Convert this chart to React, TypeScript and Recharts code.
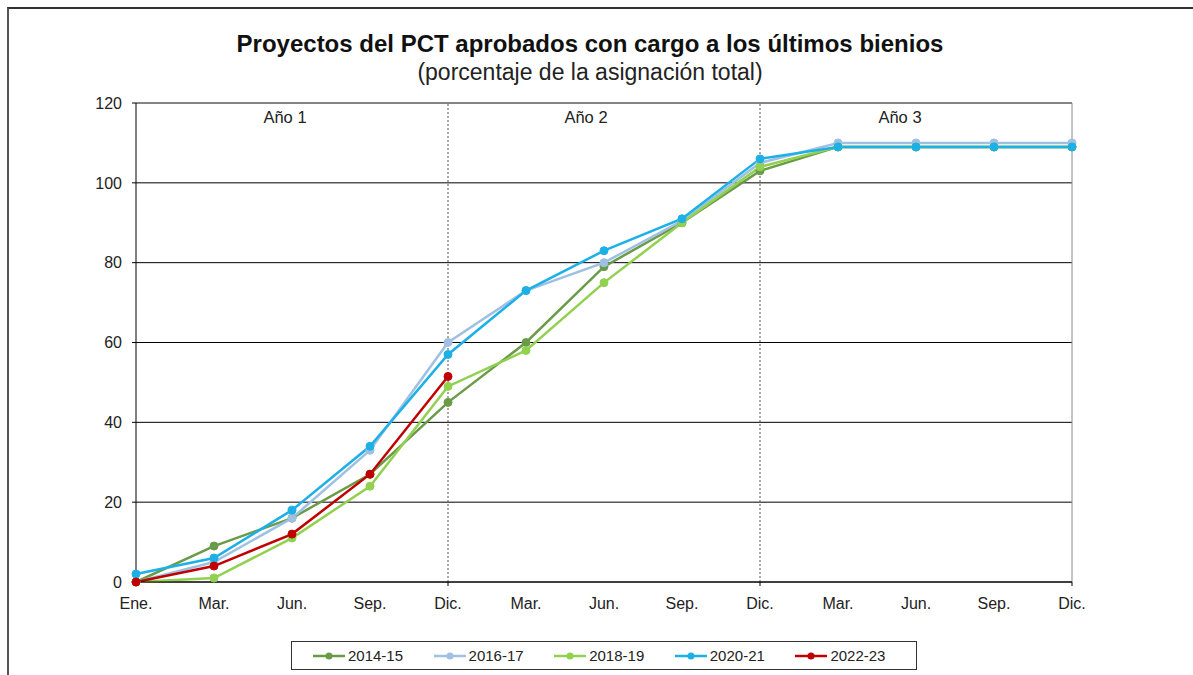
import React from "react";
import {
  LineChart,
  Line,
  XAxis,
  YAxis,
  CartesianGrid,
  ReferenceLine,
  ReferenceArea,
  Legend,
} from "recharts";

const monthLabels = ["Ene.", "Mar.", "Jun.", "Sep.", "Dic.", "Mar.", "Jun.", "Sep.", "Dic.", "Mar.", "Jun.", "Sep.", "Dic."];
const yearLabels = ["Año 1", "Año 2", "Año 3"];
const yTicks = [0, 20, 40, 60, 80, 100, 120];

const s2014_15 = [0, 9, 16, 27, 45, 60, 79, 90, 103, 109, 109, 109, 109];
const s2016_17 = [0, 5, 16, 33, 60, 73, 80, 90.5, 105, 110, 110, 110, 110];
const s2018_19 = [0, 1, 11, 24, 49, 58, 75, 90, 104, 109, 109, 109, 109];
const s2020_21 = [2, 6, 18, 34, 57, 73, 83, 91, 106, 109, 109, 109, 109];
const s2022_23 = [0, 4, 12, 27, 51.5, null, null, null, null, null, null, null, null];

const series = [
  { key: "2014-15", values: s2014_15, color: "#6a9b47" },
  { key: "2016-17", values: s2016_17, color: "#9fc0e2" },
  { key: "2018-19", values: s2018_19, color: "#92d050" },
  { key: "2020-21", values: s2020_21, color: "#1cb0e6" },
  { key: "2022-23", values: s2022_23, color: "#c00000" },
];

const data = monthLabels.map((m, i) => {
  const row: Record<string, number | null> = { idx: i };
  series.forEach((s) => {
    row[s.key] = s.values[i];
  });
  return row;
});

const FONT = "'Liberation Sans', Arial, sans-serif";

const XTick = (props: any) => {
  const { x, y, payload } = props;
  const i = payload.value as number;
  const axisY = y - 14;
  return (
    <g>
      {i > 0 && i % 4 === 0 ? (
        <line x1={x} x2={x} y1={axisY} y2={axisY + 4} stroke="#000" strokeWidth={1} />
      ) : null}
      <text x={x} y={y + 13} textAnchor="middle" fontSize={16} fill="#222" fontFamily={FONT}>
        {monthLabels[i]}
      </text>
    </g>
  );
};

const yearLabelContent = (text: string, dx: number) => (p: any) => {
  const vb = p.viewBox;
  return (
    <text
      x={vb.x + vb.width / 2 + dx}
      y={vb.y + 20}
      textAnchor="middle"
      fontSize={16.5}
      fill="#222"
      fontFamily={FONT}
    >
      {text}
    </text>
  );
};

const LegendContent = () => (
  <div
    style={{
      boxSizing: "border-box",
      width: 626,
      height: 29,
      border: "1px solid #333",
      display: "flex",
      alignItems: "center",
      paddingLeft: 21,
      fontFamily: FONT,
      fontSize: 15,
      color: "#222",
      background: "#fff",
    }}
  >
    {series.map((s) => (
      <div key={s.key} style={{ display: "flex", alignItems: "center", width: 122 }}>
        <svg width={32} height={10} style={{ marginRight: 3 }}>
          <line x1={0} x2={32} y1={5} y2={5} stroke={s.color} strokeWidth={2.5} />
          <circle cx={16} cy={5} r={3.5} fill={s.color} />
        </svg>
        <span>{s.key}</span>
      </div>
    ))}
  </div>
);

export default function App() {
  return (
    <div
      style={{
        position: "absolute",
        left: 0,
        top: 0,
        width: 1193,
        height: 675,
        background: "#fff",
        overflow: "hidden",
        fontFamily: FONT,
      }}
    >
      <div
        style={{
          position: "absolute",
          left: 7,
          top: 7,
          width: 1186,
          height: 668,
          borderTop: "2px solid #333",
          borderLeft: "2px solid #555",
          boxSizing: "border-box",
        }}
      />
      <div
        style={{
          position: "absolute",
          left: 0,
          width: 1180,
          top: 30,
          textAlign: "center",
          fontWeight: "bold",
          fontSize: 24,
          lineHeight: "28px",
          color: "#111",
        }}
      >
        Proyectos del PCT aprobados con cargo a los últimos bienios
      </div>
      <div
        style={{
          position: "absolute",
          left: 0,
          width: 1180,
          top: 58,
          textAlign: "center",
          fontSize: 23,
          lineHeight: "28px",
          color: "#222",
        }}
      >
        (porcentaje de la asignación total)
      </div>
      <div style={{ position: "absolute", left: 0, top: 0 }}>
        <LineChart
          width={1193}
          height={675}
          data={data}
          margin={{ top: 103, right: 121, bottom: 0, left: 0 }}
        >
          <CartesianGrid horizontal={true} vertical={false} stroke="#000" strokeWidth={1} />
          <XAxis
            dataKey="idx"
            type="number"
            domain={[0, 12]}
            ticks={monthLabels.map((_, i) => i)}
            interval={0}
            tickLine={false}
            tickSize={4}
            tickMargin={10}
            axisLine={{ stroke: "#000", strokeWidth: 1 }}
            tick={<XTick />}
            height={93}
          />
          <YAxis
            domain={[0, 120]}
            ticks={yTicks}
            width={136}
            tickSize={4}
            tickMargin={10}
            tickLine={{ stroke: "#000" }}
            axisLine={{ stroke: "#000", strokeWidth: 1 }}
            tick={{ fontSize: 16, fill: "#222", fontFamily: FONT }}
            interval={0}
          />
          <ReferenceLine y={120} stroke="#8a8a8a" strokeWidth={1} />
          <ReferenceLine x={12} stroke="#8a8a8a" strokeWidth={1} />
          <ReferenceLine x={4} stroke="#555" strokeWidth={1} strokeDasharray="2 2" />
          <ReferenceLine x={8} stroke="#555" strokeWidth={1} strokeDasharray="2 2" />
          <ReferenceArea x1={0} x2={4} y1={0} y2={120} fillOpacity={0} strokeOpacity={0} label={yearLabelContent(yearLabels[0], -7)} />
          <ReferenceArea x1={4} x2={8} y1={0} y2={120} fillOpacity={0} strokeOpacity={0} label={yearLabelContent(yearLabels[1], -18)} />
          <ReferenceArea x1={8} x2={12} y1={0} y2={120} fillOpacity={0} strokeOpacity={0} label={yearLabelContent(yearLabels[2], -16)} />
          {series.map((s) => (
            <Line
              key={s.key}
              type="linear"
              dataKey={s.key}
              stroke={s.color}
              strokeWidth={2.5}
              dot={{ r: 4, fill: s.color, stroke: s.color, strokeWidth: 1 }}
              activeDot={false}
              isAnimationActive={false}
              connectNulls={false}
            />
          ))}
          <Legend
            layout="horizontal"
            verticalAlign="middle"
            align="center"
            content={<LegendContent />}
            wrapperStyle={{ left: 291, top: 641, width: 626, height: 29, bottom: "auto", right: "auto" }}
          />
        </LineChart>
      </div>
    </div>
  );
}
